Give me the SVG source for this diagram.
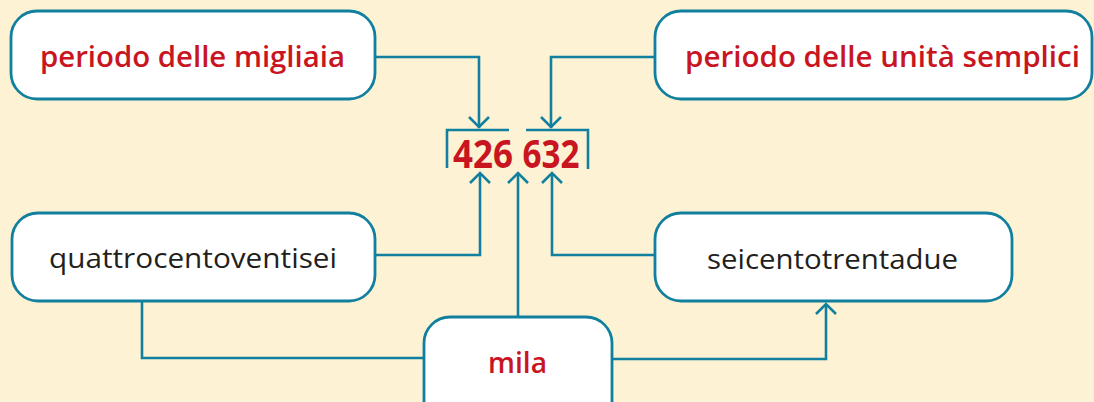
<svg xmlns="http://www.w3.org/2000/svg" width="1094" height="402" viewBox="0 0 1094 402">
<style>
.box{fill:#ffffff;stroke:#117f9e;stroke-width:2.8}
.ln{fill:none;stroke:#117f9e;stroke-width:2.6}
.red{fill:#c8151f;font-family:"Open Sans",sans-serif;font-weight:600;font-size:28px;text-anchor:middle}
.blk{fill:#231f20;font-family:"Open Sans",sans-serif;font-weight:400;font-size:28px;text-anchor:middle}
.num{fill:#c8151f;font-family:"Open Sans",sans-serif;font-weight:700;font-size:40px;text-anchor:middle}
</style>
<rect width="1094" height="402" fill="#fdf2d3"/>
<g id="connectors">
<path class="ln" d="M375 57 H479 V128"/>
<path class="ln" d="M655 57 H551 V128"/>
<path class="ln" d="M375 255 H480 V173"/>
<path class="ln" d="M655 255 H552 V173"/>
<path class="ln" d="M518 317 V173"/>
<path class="ln" d="M142 301 V358 H424"/>
<path class="ln" d="M612 359 H826 V304"/>
<path class="ln" d="M447 168 V130 H509"/>
<path class="ln" d="M526 130 H588 V169"/>
</g>
<g id="arrowheads" fill="none" stroke="#117f9e" stroke-width="2.6">
<path d="M469 117 L479 127 L489 117"/>
<path d="M541 117 L551 127 L561 117"/>
<path d="M470 183 L480 173 L490 183"/>
<path d="M508 183 L518 173 L528 183"/>
<path d="M542 183 L552 173 L562 183"/>
<path d="M816 314 L826 304 L836 314"/>
</g>
<g id="number">
<text class="num" x="483" y="168" textLength="60" lengthAdjust="spacingAndGlyphs">426</text>
<text class="num" x="551" y="168" textLength="57" lengthAdjust="spacingAndGlyphs">632</text>
</g>
<g id="n-migliaia">
<rect class="box" x="11" y="11" width="364" height="88" rx="26"/>
<text class="red" x="192.5" y="67" textLength="305" lengthAdjust="spacingAndGlyphs">periodo delle migliaia</text>
</g>
<g id="n-unita">
<rect class="box" x="655" y="11" width="437" height="88" rx="26"/>
<text class="red" x="882.5" y="67" textLength="395" lengthAdjust="spacingAndGlyphs">periodo delle unità semplici</text>
</g>
<g id="n-quattro">
<rect class="box" x="12" y="213" width="363" height="88" rx="26"/>
<text class="blk" x="193" y="268" textLength="288" lengthAdjust="spacingAndGlyphs">quattrocentoventisei</text>
</g>
<g id="n-seicento">
<rect class="box" x="655" y="213" width="357" height="88" rx="26"/>
<text class="blk" x="832.5" y="269" textLength="251" lengthAdjust="spacingAndGlyphs">seicentotrentadue</text>
</g>
<g id="n-mila">
<rect class="box" x="424" y="317" width="188" height="110" rx="26"/>
<text class="red" x="517.5" y="373" textLength="59" lengthAdjust="spacingAndGlyphs">mila</text>
</g>
</svg>
